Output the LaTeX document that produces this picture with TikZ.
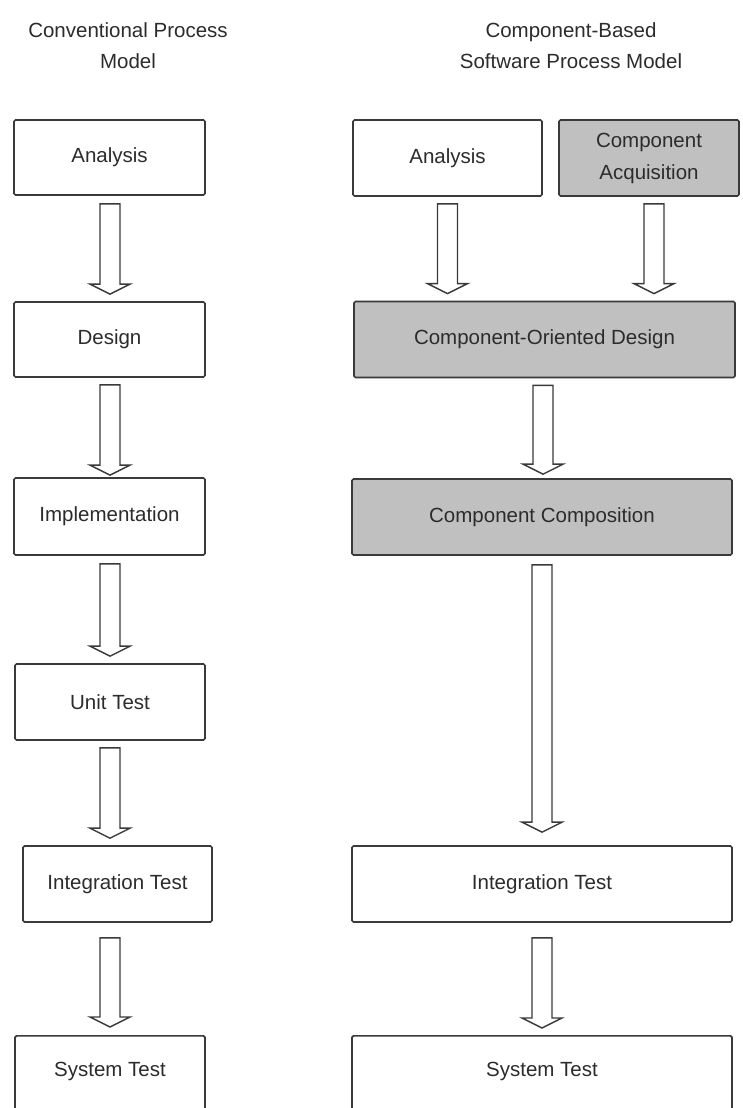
\documentclass[tikz,border=0pt]{standalone}
\usepackage{fontspec}
\setmainfont{Liberation Sans}
\usetikzlibrary{calc}
\definecolor{edge}{HTML}{3A3A3A}
\definecolor{ink}{HTML}{2C2C2C}
\definecolor{shade}{HTML}{C0C0C0}
\begin{document}
\begin{tikzpicture}[x=1pt, y={(0,-1pt)},
  every node/.style={font=\fontsize{20.5}{31}\selectfont, text=ink, align=center},
  stage/.style={draw=edge, line width=1.7pt, rounded corners=1.5pt, fill=white,
                inner sep=0pt, minimum height=#1},
  stage/.default=76pt,
  cbse/.style={stage, fill=shade},
  title/.style={font=\fontsize{20.5}{31}\selectfont},
  flow/.style={draw=edge, fill=white, line width=1.4pt, line join=miter,
    to path={let \p1=(\tikztostart), \p2=(\tikztotarget) in
      (\x1-10pt,\y1) -- (\x1+10pt,\y1) -- (\x1+10pt,\y2+10pt) -- (\x1+20pt,\y2+10pt)
      -- (\x1,\y2) -- (\x1-20pt,\y2+10pt) -- (\x1-10pt,\y2+10pt) -- cycle}}
]
\useasboundingbox (0,0) rectangle (743,1108);
\clip (0,0) rectangle (743,1108);
\fill[white] (0,0) rectangle (743,1108);

% column headings
\node[title] (h1) at (128,46) {Conventional Process\\Model};
\node[title] (h2) at (571,46) {Component-Based\\Software Process Model};

% conventional process model
\node[stage=75pt, minimum width=191pt] (la) at (109.5,157.5) {Analysis};
\node[stage=75pt, minimum width=191pt] (ld) at (109.5,339.5) {Design};
\node[stage=77pt, minimum width=191pt] (li) at (109.5,516.5) {Implementation};
\node[stage=76pt, minimum width=190pt] (lu) at (110,702) {Unit Test};
\node[stage=76pt, minimum width=189pt] (lt) at (117.5,884) {Integration Test};
\node[stage=76pt, minimum width=190pt, anchor=north] (ls) at (110,1035) {};
\node (lsl) at (110,1071) {System Test};

% component-based software process model
\node[stage=76pt, minimum width=189pt] (ra) at (447.5,158) {Analysis};
\node[cbse=76pt, minimum width=180pt, font=\fontsize{20.5}{32}\selectfont] (rq) at (649,158) {Component\\Acquisition};
\node[cbse=75pt, minimum width=381pt] (rd) at (544.5,339.5) {Component-Oriented Design};
\node[cbse=76pt, minimum width=380pt] (rc) at (542,517) {Component Composition};
\node[stage=76pt, minimum width=380pt] (rt) at (542,884) {Integration Test};
\node[stage=76pt, minimum width=380pt, anchor=north] (rs) at (542,1035) {};
\node (rsl) at (542,1071) {System Test};

% flow arrows, conventional
\draw[flow] ([xshift=0.5pt,yshift=-8pt]la.south) to ([yshift=7pt]ld.north);
\draw[flow] ([xshift=0.5pt,yshift=-7pt]ld.south) to ([yshift=2pt]li.north);
\draw[flow] ([xshift=0.5pt,yshift=-8pt]li.south) to ([yshift=7pt]lu.north);
\draw[flow] ([yshift=-7pt]lu.south) to ([xshift=-7.5pt,yshift=7pt]lt.north);
\draw[flow] ([xshift=-7.5pt,yshift=-15pt]lt.south) to ([yshift=8pt]ls.north);

% flow arrows, component-based
\draw[flow] ([yshift=-7pt]ra.south) to ([xshift=-97.5pt,yshift=7pt]rd.north);
\draw[flow] ([xshift=5pt,yshift=-7pt]rq.south) to ([xshift=109.5pt,yshift=7pt]rd.north);
\draw[flow] ([xshift=-1.5pt,yshift=-7pt]rd.south) to ([xshift=1pt,yshift=4pt]rc.north);
\draw[flow] ([yshift=-9pt]rc.south) to ([yshift=13pt]rt.north);
\draw[flow] ([yshift=-15pt]rt.south) to ([yshift=7pt]rs.north);
\end{tikzpicture}
\end{document}
